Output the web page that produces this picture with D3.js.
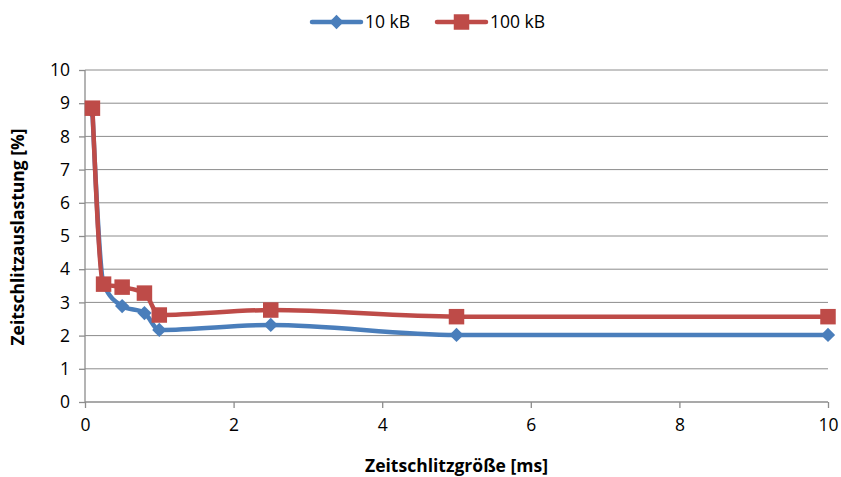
<!DOCTYPE html>
<html>
<head>
<meta charset="utf-8">
<script src="https://cdn.jsdelivr.net/npm/d3@7"></script>
<style>
  html, body { margin: 0; padding: 0; background: #fff; }
  svg text { font-family: "Open Sans", sans-serif; fill: #000; }
</style>
</head>
<body>
<svg id="chart" width="841" height="477"></svg>
<script>
// Zeitschlitzgröße in ms
const slotSizes = [0.1, 0.25, 0.5, 0.8, 1.0, 2.5, 5, 10];
// Zeitschlitzauslastung in % je Paketgröße
const load10kB  = [8.75, 3.55, 2.89, 2.68, 2.17, 2.32, 2.02, 2.02];
const load100kB = [8.85, 3.55, 3.46, 3.28, 2.62, 2.77, 2.57, 2.57];
const seriesNames = ["10 kB", "100 kB"];
const seriesColors = ["#4A7EBB", "#BE4B48"];
const xTicks = [0, 2, 4, 6, 8, 10];
const yTicks = [0, 1, 2, 3, 4, 5, 6, 7, 8, 9, 10];

const svg = d3.select("#chart");
const plot = { left: 85, right: 828, top: 70, bottom: 402 };
const font = "'Open Sans', sans-serif";
const fs = 17.5;

const x = d3.scaleLinear().domain([0, 10]).range([plot.left, plot.right]);
const y = d3.scaleLinear().domain([0, 10]).range([plot.bottom, plot.top]);

// horizontal gridlines
svg.append("g").selectAll("line").data(yTicks.filter(d => d > 0)).join("line")
  .attr("x1", plot.left).attr("x2", plot.right)
  .attr("y1", d => y(d)).attr("y2", d => y(d))
  .attr("stroke", "#8c8c8c").attr("stroke-width", 1);

// axes
const yAxis = svg.append("g").attr("transform", `translate(${plot.left},0)`)
  .call(d3.axisLeft(y).tickValues(yTicks).tickSize(6).tickPadding(9).tickFormat(d3.format("d")));
const xAxis = svg.append("g").attr("transform", `translate(0,${plot.bottom})`)
  .call(d3.axisBottom(x).tickValues(xTicks).tickSize(6).tickPadding(11).tickFormat(d3.format("d")));
[yAxis, xAxis].forEach(a => {
  a.select(".domain").attr("stroke", "#8c8c8c").attr("stroke-width", 1.3);
  a.selectAll(".tick line").attr("stroke", "#8c8c8c").attr("stroke-width", 1.3);
  a.selectAll(".tick text").attr("font-size", fs).attr("font-family", font);
});
yAxis.select(".domain").attr("d", `M0,${plot.bottom}V${plot.top}`);
xAxis.select(".domain").attr("d", `M${plot.left},0H${plot.right}`);

// axis titles
svg.append("text").attr("x", (plot.left + plot.right) / 2).attr("y", 472)
  .attr("text-anchor", "middle").attr("font-size", fs).attr("font-weight", "bold")
  .text("Zeitschlitzgröße [ms]");
svg.append("text").attr("transform", `translate(24,${(plot.top + plot.bottom) / 2 + 1}) rotate(-90)`)
  .attr("text-anchor", "middle").attr("font-size", fs).attr("font-weight", "bold")
  .text("Zeitschlitzauslastung [%]");

// series
const allSeries = [load10kB, load100kB];
const line = d3.line().x(d => x(d[0])).y(d => y(d[1])).curve(d3.curveMonotoneX);
const diamond = d3.symbol().type(d3.symbolDiamond2).size(130);
const square = d3.symbol().type(d3.symbolSquare).size(240);

allSeries.forEach((vals, i) => {
  const pts = slotSizes.map((s, k) => [s, vals[k]]);
  const g = svg.append("g");
  g.append("path").datum(pts).attr("d", line)
    .attr("fill", "none").attr("stroke", seriesColors[i]).attr("stroke-width", 4.5)
    .attr("stroke-linejoin", "round");
  g.selectAll("path.m").data(pts).join("path").attr("class", "m")
    .attr("transform", d => `translate(${x(d[0])},${y(d[1])})`)
    .attr("d", i === 0 ? diamond : square)
    .attr("fill", seriesColors[i]);
});

// legend
const legendItems = [{ x0: 312, name: seriesNames[0], c: seriesColors[0], sym: diamond },
                     { x0: 437, name: seriesNames[1], c: seriesColors[1], sym: square }];
const ly = 22;
legendItems.forEach(it => {
  const g = svg.append("g");
  g.append("line").attr("x1", it.x0).attr("x2", it.x0 + 49).attr("y1", ly).attr("y2", ly)
    .attr("stroke", it.c).attr("stroke-width", 4.5).attr("stroke-linecap", "round");
  g.append("path").attr("transform", `translate(${it.x0 + 24.5},${ly})`).attr("d", it.sym).attr("fill", it.c);
  g.append("text").attr("x", it.x0 + 53).attr("y", ly + 6).attr("font-size", fs).text(it.name);
});
</script>
</body>
</html>
